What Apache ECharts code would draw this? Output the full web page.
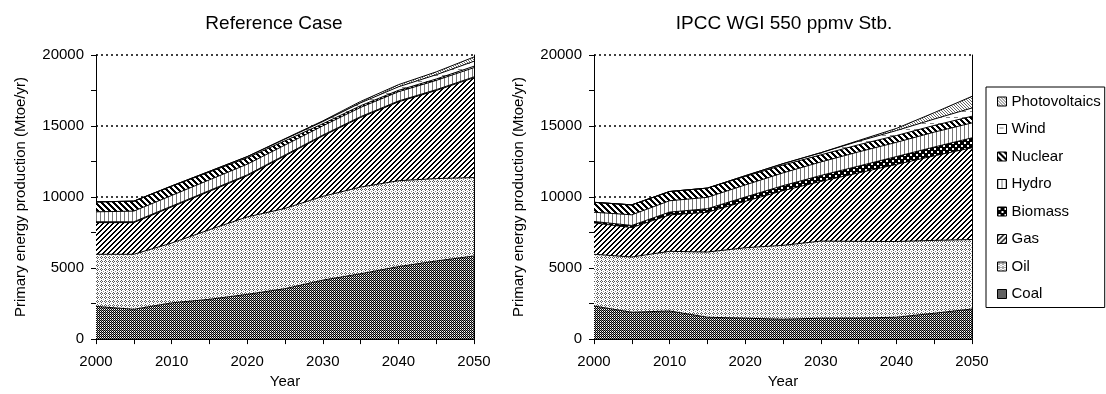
<!DOCTYPE html>
<html>
<head>
<meta charset="utf-8">
<script src="https://cdn.jsdelivr.net/npm/echarts@6/dist/echarts.min.js"></script>
<style>
  html, body { margin: 0; padding: 0; background: #fff; }
  #chart { width: 1106px; height: 394px; }
</style>
</head>
<body>
<div id="chart"></div>
<script>
const years = ["2000", "2005", "2010", "2015", "2020", "2025", "2030", "2035", "2040", "2045", "2050"];
const fuels = ["Coal", "Oil", "Gas", "Biomass", "Hydro", "Nuclear", "Wind", "Photovoltaics"];
const yTickLabels = [0, 5000, 10000, 15000, 20000];

// Reference Case (Mtoe/yr)
const refCoal = [2300, 2100, 2550, 2800, 3150, 3550, 4150, 4600, 5100, 5500, 5850];
const refOil = [3670, 3870, 4210, 4900, 5450, 5650, 5900, 6100, 6050, 5800, 5520];
const refGas = [2230, 2230, 2540, 2700, 2900, 3700, 4250, 4900, 5550, 6200, 7030];
const refBiomass = [60, 60, 60, 60, 60, 60, 60, 60, 60, 60, 60];
const refHydro = [700, 750, 750, 750, 750, 700, 650, 650, 650, 650, 650];
const refNuclear = [700, 700, 650, 550, 450, 300, 150, 120, 100, 100, 100];
const refWind = [0, 0, 20, 50, 80, 120, 150, 200, 250, 300, 350];
const refPV = [0, 0, 0, 0, 10, 30, 50, 100, 150, 200, 300];

// IPCC WGI 550 ppmv stabilisation (Mtoe/yr)
const ipccCoal = [2330, 1890, 1980, 1540, 1470, 1400, 1470, 1480, 1540, 1820, 2120];
const ipccOil = [3640, 3890, 4200, 4590, 4960, 5200, 5430, 5400, 5330, 5130, 4890];
const ipccGas = [2210, 2070, 2560, 2800, 3270, 3850, 4200, 4820, 5430, 5950, 6460];
const ipccBiomass = [100, 150, 200, 250, 300, 350, 420, 480, 550, 620, 700];
const ipccHydro = [650, 750, 800, 800, 850, 900, 950, 1000, 1000, 1050, 1050];
const ipccNuclear = [700, 700, 650, 650, 600, 550, 500, 500, 480, 470, 470];
const ipccWind = [0, 0, 0, 0, 50, 100, 150, 250, 350, 450, 580];
const ipccPV = [0, 0, 0, 0, 0, 0, 0, 50, 150, 450, 820];

const refData = [refCoal, refOil, refGas, refBiomass, refHydro, refNuclear, refWind, refPV];
const ipccData = [ipccCoal, ipccOil, ipccGas, ipccBiomass, ipccHydro, ipccNuclear, ipccWind, ipccPV];

// small pixel tiles used as fill patterns
function tile(w, h, bg, paint) {
  const c = document.createElement("canvas");
  c.width = w;
  c.height = h;
  const ctx = c.getContext("2d");
  ctx.fillStyle = bg;
  ctx.fillRect(0, 0, w, h);
  for (let y = 0; y < h; y++) {
    for (let x = 0; x < w; x++) {
      const col = paint(x, y);
      if (col) {
        ctx.fillStyle = col;
        ctx.fillRect(x, y, 1, 1);
      }
    }
  }
  return { image: c, repeat: "repeat" };
}

const patterns = {
  Coal: tile(4, 4, "#fff", (x, y) => ((x + y) % 2 === 0 ? "#000" : x % 2 === 1 && y % 2 === 0 ? "#888" : null)),
  Oil: tile(4, 4, "#fff", (x, y) =>
    (x === 1 && y === 0) || (x === 0 && y === 1) || (x === 2 && y === 1) || (x === 1 && y === 2)
      ? "#555"
      : x === 3 && y === 3 ? "#999" : null),
  Gas: tile(5, 5, "#fff", (x, y) => ((x + y) % 5 < 2 ? "#000" : null)),
  Biomass: tile(6, 6, "#000", (x, y) =>
    ((x === 1 || x === 2) && (y === 1 || y === 2)) || ((x === 4 || x === 5) && (y === 4 || y === 5)) ? "#fff" : null),
  Hydro: tile(4, 8, "#fff", (x) => (x === 0 ? "#777" : null)),
  Nuclear: tile(6, 6, "#fff", (x, y) => ((x - y + 6) % 6 < 3 ? "#000" : null)),
  Wind: tile(8, 6, "#fff", (x, y) => (y === 3 && x >= 2 && x <= 5 ? "#888" : null)),
  Photovoltaics: tile(3, 3, "#fff", (x, y) => ((x - y + 3) % 3 === 0 ? "#666" : null)),
};

const font = "Liberation Sans, Arial, sans-serif";

function xAxis(gridIndex) {
  return {
    type: "category",
    gridIndex,
    data: years,
    boundaryGap: false,
    name: "Year",
    nameLocation: "middle",
    nameGap: 33,
    nameTextStyle: { color: "#000", fontSize: 15, fontFamily: font },
    axisLine: { lineStyle: { color: "#000", width: 1 } },
    axisTick: { length: 5, interval: 0, lineStyle: { color: "#000" } },
    splitLine: { show: false },
    axisLabel: {
      color: "#000",
      fontSize: 15,
      fontFamily: font,
      margin: 15,
      interval: 1,
    },
  };
}

function yAxes(gridIndex) {
  return [
    {
      type: "value",
      gridIndex,
      min: 0,
      max: 20000,
      interval: 5000,
      name: "Primary energy production (Mtoe/yr)",
      nameLocation: "middle",
      nameGap: 68,
      nameTextStyle: { color: "#000", fontSize: 15, fontFamily: font },
      axisLine: { show: true, lineStyle: { color: "#000", width: 1 } },
      axisTick: { show: true, length: 5, lineStyle: { color: "#000" } },
      minorTick: { show: true, splitNumber: 2, length: 5, lineStyle: { color: "#000" } },
      splitLine: { show: true, lineStyle: { color: "#000", width: 1.5, type: [2, 3] } },
      axisLabel: {
        color: "#000",
        fontSize: 15,
        fontFamily: font,
        margin: 12,
        formatter: (v) => (yTickLabels.includes(v) ? String(v) : ""),
      },
    },
    {
      type: "value",
      gridIndex,
      position: "right",
      min: 0,
      max: 20000,
      axisLine: { show: true, lineStyle: { color: "#000", width: 1 } },
      axisTick: { show: false },
      axisLabel: { show: false },
      splitLine: { show: false },
    },
  ];
}

function stackSeries(stackId, axisIndex, data) {
  return fuels.map((name, i) => ({
    name,
    type: "line",
    stack: stackId,
    xAxisIndex: axisIndex,
    yAxisIndex: axisIndex * 2,
    symbol: "none",
    silent: true,
    data: data[i],
    lineStyle: { color: "#000", width: 1 },
    itemStyle: { color: "#000" },
    areaStyle: { color: patterns[name], opacity: 1 },
    emphasis: { disabled: true },
  }));
}

const chart = echarts.init(document.getElementById("chart"), null, { renderer: "canvas" });

const option = {
  animation: false,
  backgroundColor: "#fff",
  title: [
    {
      text: "Reference Case",
      left: 269,
      top: 9,
      textAlign: "center",
      textStyle: { color: "#000", fontSize: 19, fontWeight: "normal", fontFamily: font },
    },
    {
      text: "IPCC WGI 550 ppmv Stb.",
      left: 779,
      top: 9,
      textAlign: "center",
      textStyle: { color: "#000", fontSize: 19, fontWeight: "normal", fontFamily: font },
    },
  ],
  legend: {
    orient: "vertical",
    left: 986,
    top: 87,
    padding: [7, 4, 6, 11],
    itemGap: 12.5,
    itemWidth: 9,
    itemHeight: 9,
    icon: "rect",
    borderColor: "#000",
    borderWidth: 1,
    selectedMode: false,
    textStyle: { color: "#000", fontSize: 15, fontFamily: font },
    data: fuels
      .slice()
      .reverse()
      .map((name) => ({
        name,
        icon: "rect",
        itemStyle: { color: patterns[name], borderColor: "#000", borderWidth: 1 },
      })),
  },
  grid: [
    { left: 96, top: 55, width: 378, height: 286 },
    { left: 594, top: 55, width: 378, height: 286 },
  ],
  xAxis: [xAxis(0), xAxis(1)],
  yAxis: [...yAxes(0), ...yAxes(1)],
  series: [...stackSeries("ref", 0, refData), ...stackSeries("ipcc", 1, ipccData)],
};

chart.setOption(option);
</script>
</body>
</html>
